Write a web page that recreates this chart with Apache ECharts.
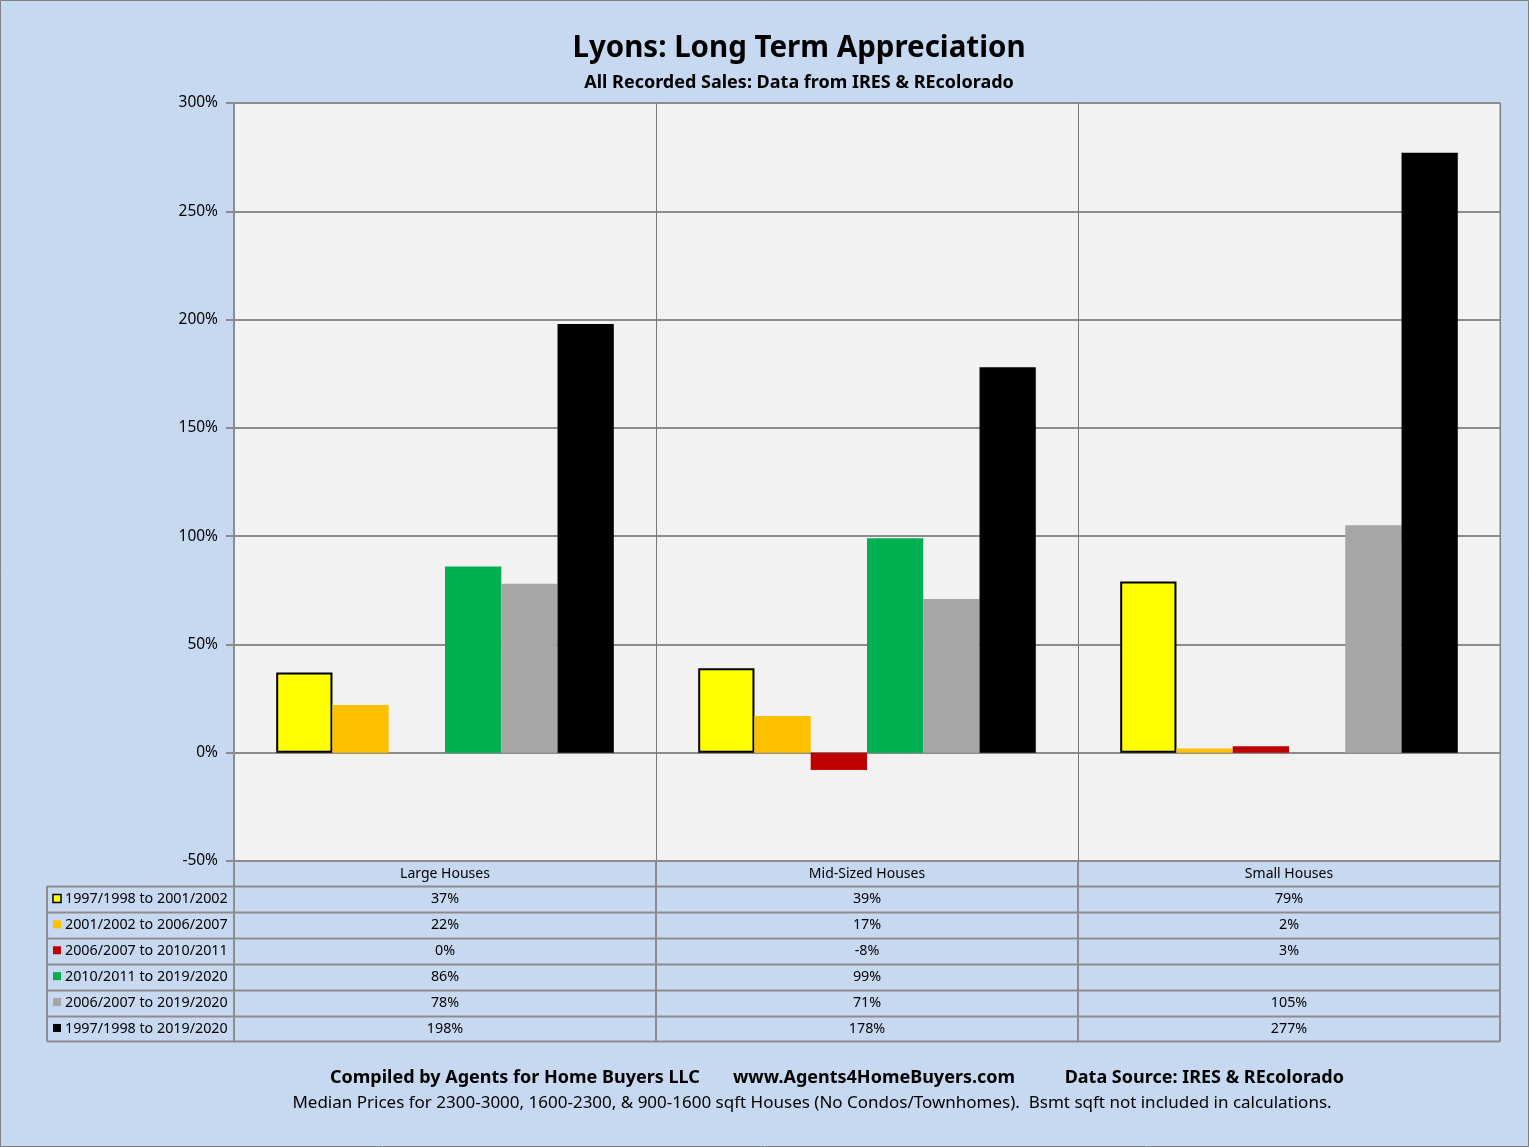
<!DOCTYPE html>
<html>
<head>
    <meta charset="utf-8">
    <title>Lyons: Long Term Appreciation</title>
    <script src="https://cdn.jsdelivr.net/npm/echarts@6/dist/echarts.min.js"></script>
    <style type="text/css">
        html, body { margin: 0; padding: 0; background: #C6D9F1; }
        #main { width: 1529px; height: 1147px; }
    </style>
</head>
<body>
    <div id="main"></div>
    <script type="text/javascript">
        // categories and the six periods
        var categories = ['Large Houses', 'Mid-Sized Houses', 'Small Houses'];
        var periods = [
            '1997/1998 to 2001/2002',
            '2001/2002 to 2006/2007',
            '2006/2007 to 2010/2011',
            '2010/2011 to 2019/2020',
            '2006/2007 to 2019/2020',
            '1997/1998 to 2019/2020'
        ];
        var colors = ['#FFFF00', '#FFC000', '#C00000', '#00B050', '#A6A6A6', '#000000'];

        // appreciation in %, one array per period (Large, Mid, Small)
        var p9802 = [37, 39, 79];
        var p0207 = [22, 17, 2];
        var p0711 = [0, -8, 3];
        var p1120 = [86, 99, null];
        var p0720 = [78, 71, 105];
        var p9820 = [198, 178, 277];
        var seriesData = [p9802, p0207, p0711, p1120, p0720, p9820];

        var yMin = -50, yMax = 300, yStep = 50;

        // layout of the plot + data table
        var W = 1529, H = 1147;
        var gL = 234, gR = 1500, gT = 103, gB = 861;
        var tabLeft = 47, headH = 25, rowH = 25.9;
        var font = '"Noto Sans", sans-serif';
        var lineCol = '#8C8C8C';
        var cellFont = '14.3px ' + font;

        var myChart = echarts.init(document.getElementById('main'));

        //数据表 (table under the plot), built from the arrays above
        function tableGraphics() {
            var els = [];
            var catW = (gR - gL) / categories.length;
            var top = gB + headH;
            var bottom = top + rowH * periods.length;
            // horizontal lines
            for (var r = 0; r <= periods.length; r++) {
                var y = Math.round(top + r * rowH) + 0.5;
                els.push({type: 'line', shape: {x1: tabLeft, y1: y, x2: gR, y2: y},
                    style: {stroke: lineCol, lineWidth: 2}});
            }
            // vertical lines
            els.push({type: 'line', shape: {x1: tabLeft, y1: top, x2: tabLeft, y2: bottom},
                style: {stroke: lineCol, lineWidth: 2}});
            for (var c = 0; c <= categories.length; c++) {
                var x = gL + c * catW;
                els.push({type: 'line', shape: {x1: x, y1: gB, x2: x, y2: bottom},
                    style: {stroke: lineCol, lineWidth: 2}});
            }
            // legend keys, row titles and values
            for (var i = 0; i < periods.length; i++) {
                var cy = top + (i + 0.5) * rowH;
                els.push({type: 'rect', shape: {x: 53, y: cy - 4.5, width: 8, height: 8},
                    style: {fill: colors[i], stroke: i === 0 ? '#000' : null, lineWidth: i === 0 ? 1.5 : 0}});
                els.push({type: 'text', x: 65, y: cy,
                    style: {text: periods[i], font: cellFont, fill: '#000',
                        textAlign: 'left', textVerticalAlign: 'middle'}});
                for (var k = 0; k < categories.length; k++) {
                    var v = seriesData[i][k];
                    if (v === null) continue;
                    els.push({type: 'text', x: gL + (k + 0.5) * catW, y: cy,
                        style: {text: v + '%', font: cellFont, fill: '#000',
                            textAlign: 'center', textVerticalAlign: 'middle'}});
                }
            }
            return els;
        }

        var series = [];
        for (var i = 0; i < periods.length; i++) {
            series.push({
                name: periods[i],
                type: 'bar',
                data: seriesData[i],
                barGap: '0%',
                barCategoryGap: '20%',
                itemStyle: {
                    color: colors[i],
                    borderColor: i === 0 ? '#000' : null,
                    borderWidth: i === 0 ? 2 : 0
                }
            });
        }

        var graphics = [
            {type: 'rect', shape: {x: 0.5, y: 0.5, width: W - 1, height: H - 1},
                style: {fill: null, stroke: '#7F7F7F', lineWidth: 1}, z: 100},
            {type: 'text', x: 1344, y: 1078,
                style: {text: 'Data Source: IRES & REcolorado', font: 'bold 18px ' + font,
                    fill: '#000', textAlign: 'right', textVerticalAlign: 'middle'}},
            {type: 'text', x: 874, y: 1078,
                style: {text: 'www.Agents4HomeBuyers.com', font: 'bold 18px ' + font,
                    fill: '#000', textAlign: 'center', textVerticalAlign: 'middle'}},
            {type: 'text', x: 330, y: 1078,
                style: {text: 'Compiled by Agents for Home Buyers LLC', font: 'bold 18px ' + font,
                    fill: '#000', textAlign: 'left', textVerticalAlign: 'middle'}},
            {type: 'text', x: 812, y: 1103,
                style: {text: 'Median Prices for 2300-3000, 1600-2300, & 900-1600 sqft Houses (No Condos/Townhomes).  Bsmt sqft not included in calculations.',
                    font: '17px ' + font, fill: '#000', textAlign: 'center', textVerticalAlign: 'middle'}}
        ].concat(tableGraphics());

        var option = {
            backgroundColor: '#C6D9F1',
            animation: false,
            title: {
                text: 'Lyons: Long Term Appreciation',
                subtext: 'All Recorded Sales: Data from IRES & REcolorado',
                left: 794,
                textAlign: 'center',
                top: 29,
                itemGap: 10,
                textStyle: {fontFamily: font, fontSize: 29.5, fontWeight: 'bold', color: '#000'},
                subtextStyle: {fontFamily: font, fontSize: 18, fontWeight: 'bold', color: '#000'}
            },
            grid: {
                left: gL, right: W - gR, top: gT, bottom: H - gB,
                show: true, backgroundColor: '#F2F2F2', borderColor: lineCol, borderWidth: 1
            },
            xAxis: {
                type: 'category',
                data: categories,
                axisLine: {onZero: false, lineStyle: {color: lineCol, width: 2}},
                axisTick: {show: false},
                axisLabel: {margin: 6, fontSize: 14, fontFamily: font, color: '#000'},
                splitLine: {show: true, lineStyle: {color: '#7A7A7A', width: 1}}
            },
            yAxis: {
                type: 'value',
                min: yMin, max: yMax, interval: yStep,
                axisLine: {show: true, lineStyle: {color: lineCol, width: 2}},
                axisTick: {show: true, length: 8, lineStyle: {color: lineCol, width: 2}},
                axisLabel: {formatter: '{value}%', margin: 16, fontSize: 15.5, fontFamily: font, color: '#000'},
                splitLine: {lineStyle: {color: lineCol, width: 2}}
            },
            series: series,
            graphic: graphics
        };
        myChart.setOption(option);
    </script>
</body>
</html>
